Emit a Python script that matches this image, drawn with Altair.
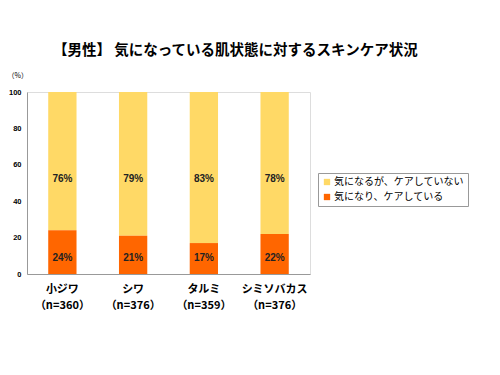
import altair as alt
import pandas as pd

categories = ["小ジワ", "シワ", "タルミ", "シミソバカス"]
n_labels = ["（n=360）", "（n=376）", "（n=359）", "（n=376）"]
series = ["気になるが、ケアしていない", "気になり、ケアしている"]
not_caring = [76, 79, 83, 78]
caring = [24, 21, 17, 22]
colors = ["#FFD966", "#FF6600"]

rows = []
for c, n, a, b in zip(categories, n_labels, not_caring, caring):
    lab = c + "|" + n
    rows.append({"cat": lab, "series": series[0], "value": a, "ord": 2, "label": f"{a}%", "ypos": 52})
    rows.append({"cat": lab, "series": series[1], "value": b, "ord": 1, "label": f"{b}%", "ypos": 9})
df = pd.DataFrame(rows)

FONT = "Noto Sans CJK JP"
cat_order = [c + "|" + n for c, n in zip(categories, n_labels)]

x_axis = alt.Axis(title=None, labelAngle=0, labelExpr="split(datum.label, '|')",
                  labelFont=FONT, labelFontSize=11, labelFontWeight="bold",
                  labelColor="#000", labelPadding=9, labelLineHeight=16,
                  ticks=False, domainColor="#999")
x_scale = alt.Scale(paddingInner=0.6, paddingOuter=0.3)

y_axis = alt.Axis(title="（%）", titleAngle=0, titleX=-20, titleY=-14,
                  titleAlign="left", titleFont=FONT, titleFontSize=7,
                  titleFontWeight="normal", titleColor="#000",
                  values=[0, 20, 40, 60, 80, 100], grid=False, ticks=False,
                  labelOverlap=False,
                  labelFont="Liberation Sans", labelFontSize=7.5,
                  labelFontWeight="bold", labelColor="#000",
                  labelPadding=6, domainColor="#999")
y_scale = alt.Scale(domain=[0, 100])

bars = alt.Chart(df).mark_bar().encode(
    x=alt.X("cat:N", sort=cat_order, scale=x_scale, axis=x_axis),
    y=alt.Y("value:Q", stack="zero", scale=y_scale, axis=y_axis),
    color=alt.Color("series:N", scale=alt.Scale(domain=series, range=colors),
                    legend=alt.Legend(title=None, orient="none", legendX=291, legendY=81,
                                      symbolType="square", symbolSize=40,
                                      symbolStrokeWidth=0,
                                      labelFont=FONT, labelFontSize=10,
                                      labelColor="#000", strokeColor="#999",
                                      padding=4, rowPadding=5, labelOffset=2)),
    order=alt.Order("ord:Q"),
)

texts = alt.Chart(df).mark_text(font="Liberation Sans", fontSize=10, fontWeight="bold",
                                color="#222").encode(
    x=alt.X("cat:N", sort=cat_order, scale=x_scale, axis=x_axis),
    y=alt.Y("ypos:Q", scale=y_scale, axis=y_axis),
    text="label:N",
)

chart = alt.layer(bars, texts).properties(
    width=283, height=182,
    autosize=alt.AutoSizeParams(type="none"),
    padding={"left": 19, "top": 84, "right": 182, "bottom": 93},
    title=alt.TitleParams("【男性】 気になっている肌状態に対するスキンケア状況",
                          font=FONT, fontSize=14.5, fontWeight="bold", color="#000",
                          anchor="start", dx=46, offset=13, limit=0),
).configure_view(stroke="#999", strokeWidth=1.5).configure(background="white")

chart.save("out.html", embed_options={"renderer": "svg", "actions": False})
